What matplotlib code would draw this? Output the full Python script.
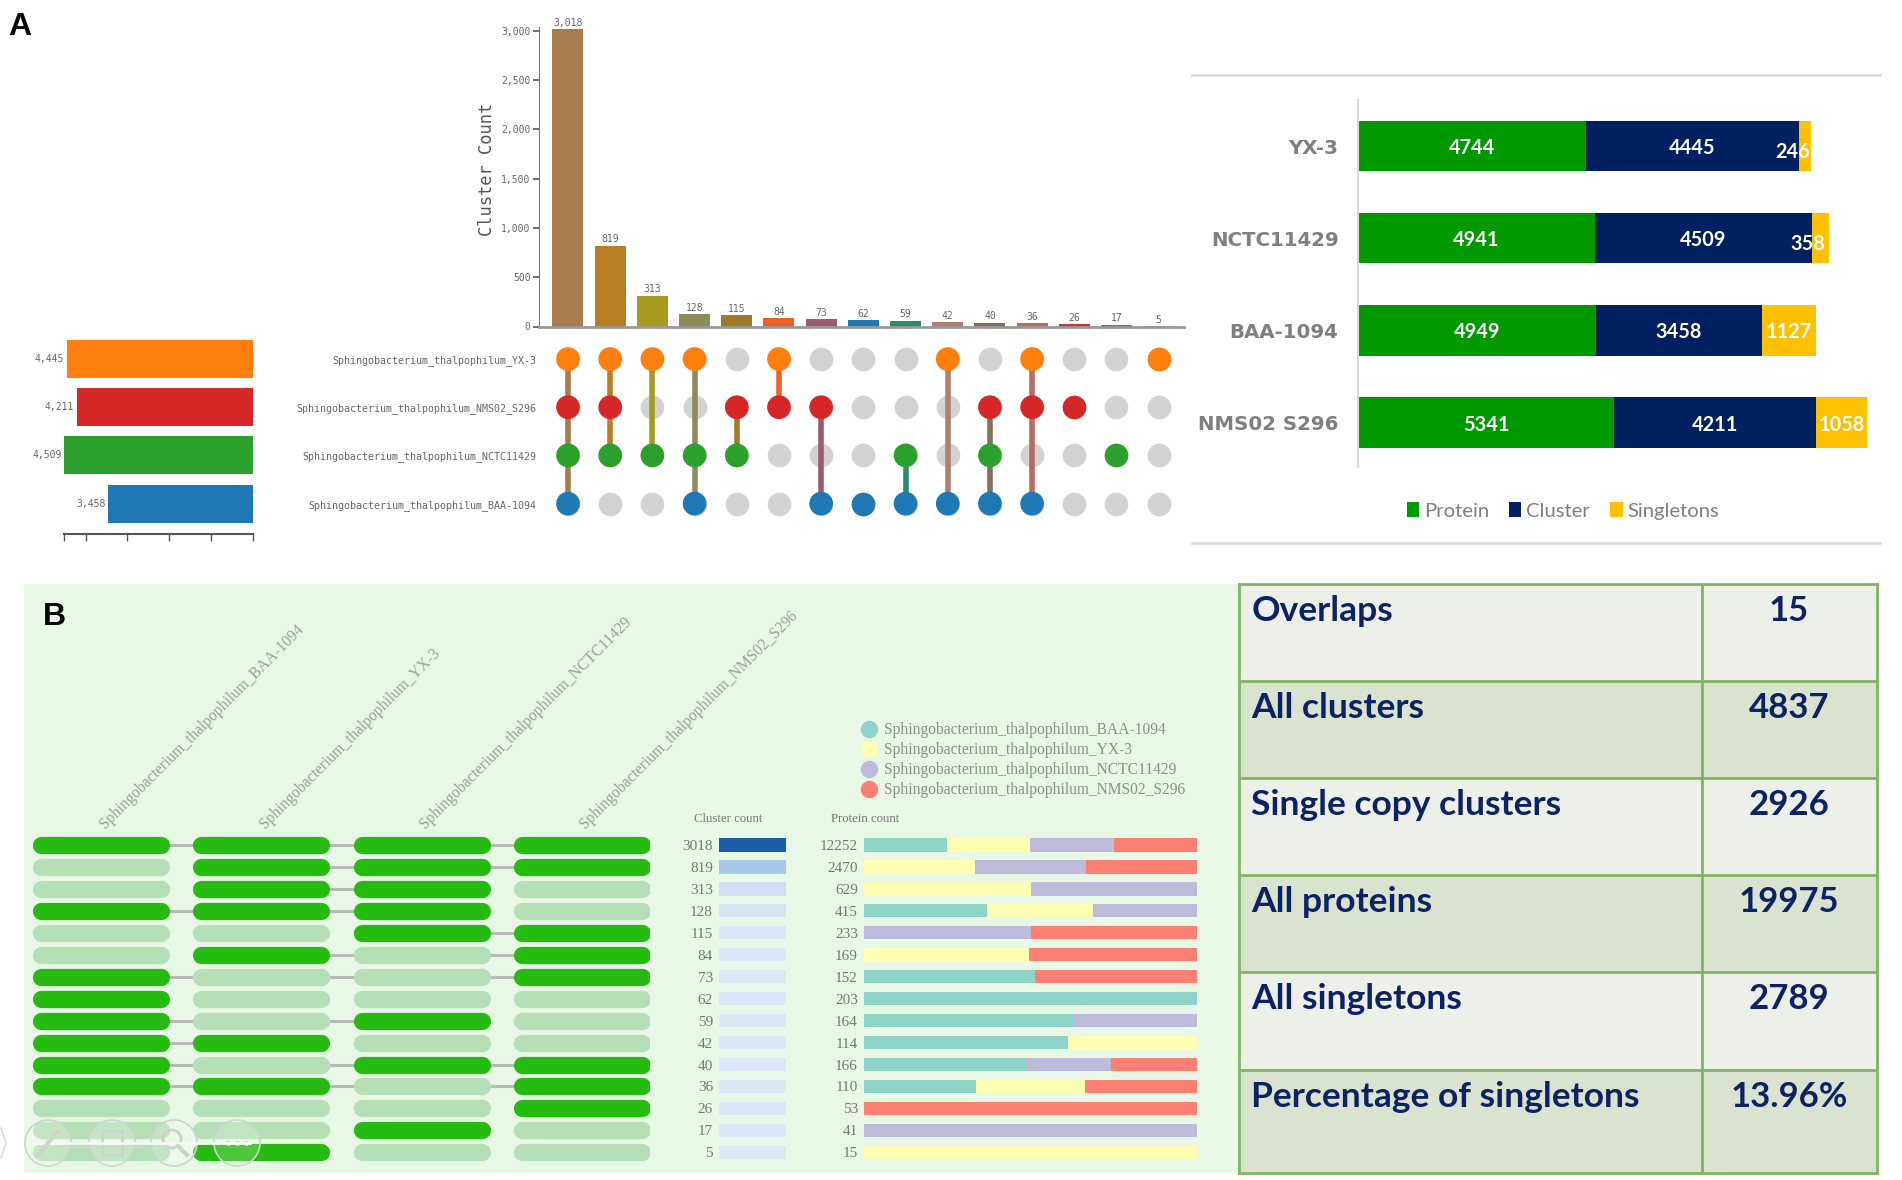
import matplotlib
matplotlib.use('Agg')

import numpy as np
import matplotlib.pyplot as plt
from matplotlib.lines import Line2D
from matplotlib.patches import Circle, Rectangle

W, H = 1902, 1180

# Upset data
clusterCounts = [3018, 819, 313, 128, 115, 84, 73, 62, 59, 42, 40, 36, 26, 17, 5]
barColors = ['#a67c4e', '#b97d24', '#a89a1f', '#8f8a5a', '#a07a2a', '#ec5f28', '#9a5a70', '#1f77b4',
             '#2a8a6e', '#b07f6e', '#85705a', '#b86a5e', '#c8323a', '#2ca02c', '#b0a090']
upsetStrains = ['Sphingobacterium_thalpophilum_YX-3', 'Sphingobacterium_thalpophilum_NMS02_S296',
                'Sphingobacterium_thalpophilum_NCTC11429', 'Sphingobacterium_thalpophilum_BAA-1094']
upsetColors = ['#ff7f0e', '#d62728', '#2ca02c', '#1f77b4']
strainTotals = [4445, 4211, 4509, 3458]
# letters: Y=YX-3, N=NMS02, C=NCTC, B=BAA
membership = ['YNCB', 'YNC', 'YC', 'YCB', 'NC', 'YN', 'NB', 'B', 'CB', 'YB', 'NCB', 'YNB', 'N', 'C', 'Y']
upsetOrder = 'YNCB'

# Stacked bars
stackStrains = ['YX-3', 'NCTC11429', 'BAA-1094', 'NMS02 S296']
proteinVals = [4744, 4941, 4949, 5341]
clusterVals = [4445, 4509, 3458, 4211]
singletonVals = [246, 358, 1127, 1058]

# Panel B
pillOrder = 'BYCN'
pillStrains = ['Sphingobacterium_thalpophilum_BAA-1094', 'Sphingobacterium_thalpophilum_YX-3',
               'Sphingobacterium_thalpophilum_NCTC11429', 'Sphingobacterium_thalpophilum_NMS02_S296']
pillColors = ['#8dd3c7', '#ffffb3', '#bebada', '#fb8072']
heatColors = ['#1a5da6', '#a8c8e8', '#cfe0f2', '#d5e4f5'] + ['#dce8f8'] * 11
proteinTotals = [12252, 2470, 629, 415, 233, 169, 152, 203, 164, 114, 166, 110, 53, 41, 15]
baaProteins = [3063, 0, 0, 154, 0, 0, 78, 203, 103, 70, 81, 37, 0, 0, 0]
yxProteins = [3063, 823, 315, 132, 0, 84, 0, 0, 0, 44, 0, 36, 0, 0, 15]
nctcProteins = [3063, 824, 314, 129, 117, 0, 0, 0, 61, 0, 42, 0, 0, 41, 0]
nmsProteins = [3063, 823, 0, 0, 116, 85, 74, 0, 0, 0, 43, 37, 53, 0, 0]

# Summary table
tableNames = ['Overlaps', 'All clusters', 'Single copy clusters', 'All proteins', 'All singletons',
              'Percentage of singletons']
tableValues = ['15', '4837', '2926', '19975', '2789', '13.96%']


def pxAxes(fig, x0, y0, x1, y1, **kw):
    # axes from a box in picture pixels
    return fig.add_axes([x0 / W, 1 - y1 / H, (x1 - x0) / W, (y1 - y0) / H], **kw)


def clearAxes(ax):
    for s in ax.spines.values():
        s.set_visible(False)
    ax.set_xticks([])
    ax.set_yticks([])
    ax.patch.set_alpha(0)


def drawUpsetBars(fig):
    ax = pxAxes(fig, 539, 27, 1184, 326.5)
    x = np.arange(len(clusterCounts))
    bars = ax.bar(x, clusterCounts, width=0.735, color=barColors)
    ax.bar_label(bars, fmt='{:,.0f}', fontsize=7, family='DejaVu Sans Mono', color='#666666', padding=1)
    ax.set_xlim(-0.687, 14.6)
    ax.set_ylim(0, 3040)
    ax.set_xticks([])
    ax.set_yticks(range(0, 3001, 500))
    ax.set_yticklabels(['{:,}'.format(v) for v in range(0, 3001, 500)], fontsize=7,
                       family='DejaVu Sans Mono', color='#666666')
    ax.tick_params(axis='y', length=4, width=1.2, color='#555555', pad=2)
    ax.set_ylabel('Cluster Count', fontsize=12.3, family='DejaVu Sans Mono', color='#555555')
    ax.yaxis.set_label_coords(-0.066, 0.525)
    for side in ['top', 'right']:
        ax.spines[side].set_visible(False)
    ax.spines['left'].set_color('#777777')
    ax.spines['bottom'].set_color('#999999')
    ax.spines['bottom'].set_linewidth(2)
    ax.patch.set_alpha(0)


def drawUpsetMatrix(fig):
    ax = pxAxes(fig, 539, 335, 1184, 530)
    clearAxes(ax)
    ax.set_xlim(-0.687, 14.6)
    ax.set_ylim((530 - 359) / 48.2, (335 - 359) / 48.2)
    for col, members in enumerate(membership):
        rows = [upsetOrder.index(m) for m in members]
        ax.scatter([col] * 4, range(4), s=290, color='#d3d3d3', zorder=1, linewidths=0)
        if len(rows) > 1:
            ax.plot([col, col], [min(rows), max(rows)], color=barColors[col], lw=4, zorder=2)
        ax.scatter([col] * len(rows), rows, s=290, color=[upsetColors[r] for r in rows], zorder=3, linewidths=0)
    ax.set_yticks(range(4))
    ax.set_yticklabels(upsetStrains, fontsize=7.2, family='DejaVu Sans Mono', color='#666666')
    ax.tick_params(axis='y', length=0, pad=2)


def drawStrainBars(fig):
    ax = pxAxes(fig, 64, 335, 252.5, 534)
    rows = np.arange(4)
    ax.barh(rows, strainTotals, height=0.785, color=upsetColors)
    for r, v in enumerate(strainTotals):
        ax.annotate('{:,}'.format(v), (v, r), xytext=(-2, 0), textcoords='offset points', ha='right', va='center',
                    fontsize=7, family='DejaVu Sans Mono', color='#666666', annotation_clip=False)
    ax.set_xlim(4520, 0)
    ax.set_ylim((534 - 359) / 48.2, (335 - 359) / 48.2)
    ax.set_yticks([])
    ax.set_xticks([0, 1000, 2000, 3000, 4000, 4520])
    ax.set_xticklabels([])
    ax.tick_params(axis='x', length=5, width=1, color='#555555')
    for side in ['top', 'right', 'left']:
        ax.spines[side].set_visible(False)
    ax.spines['bottom'].set_color('#555555')
    ax.spines['bottom'].set_linewidth(1.5)
    ax.patch.set_alpha(0)


def drawStack(fig):
    ax = pxAxes(fig, 1358, 100, 1880, 467)
    rows = np.arange(4)
    prot = np.array(proteinVals)
    clus = np.array(clusterVals)
    sing = np.array(singletonVals)
    h = 0.548
    b1 = ax.barh(rows, prot, height=h, color='#009900', label='Protein')
    b2 = ax.barh(rows, clus, height=h, left=prot, color='#002060', label='Cluster')
    b3 = ax.barh(rows, sing, height=h, left=prot + clus, color='#ffc000', label='Singletons')
    lab = dict(color='white', family='Lato', fontweight='bold', fontsize=14.3, ha='center', va='center',
               textcoords='offset points')
    for r in rows:
        ax.annotate(str(prot[r]), (prot[r] / 2.0, r), xytext=(0, -1.5), **lab)
        ax.annotate(str(clus[r]), (prot[r] + clus[r] / 2.0, r), xytext=(0, -1.5), **lab)
        off = (-9, -4) if sing[r] < 500 else (0, -1.5)
        ax.annotate(str(sing[r]), (prot[r] + clus[r] + sing[r] / 2.0, r), xytext=off, **lab)
    ax.set_xlim(0, 522 / 0.048)
    ax.set_ylim(3.483, -0.5)
    ax.set_xticks([])
    ax.set_yticks(rows)
    ax.set_yticklabels(stackStrains, fontsize=14.2, family='DejaVu Sans', fontweight='bold', color='#7f7f7f')
    ax.tick_params(axis='y', length=0, pad=14)
    for side in ['top', 'right', 'bottom']:
        ax.spines[side].set_visible(False)
    ax.spines['left'].set_color('#d9d9d9')
    ax.spines['left'].set_linewidth(1.5)
    ax.patch.set_alpha(0)
    ax.legend(handles=[b1, b2, b3], ncol=3, frameon=False, loc='center', bbox_to_anchor=(1563 / W, 1 - 511 / H),
              bbox_transform=fig.transFigure, prop=dict(family='Lato', size=14.6), labelcolor='#7f7f7f',
              handlelength=0.6, handleheight=0.7, handletextpad=0.25, columnspacing=1.0)


def drawPills(fig):
    ax = pxAxes(fig, 32.6, 834, 650.4, 1163.3)
    clearAxes(ax)
    ax.set_xlim(-0.429, 3.429)
    ax.set_ylim(14.5, -0.5)
    inset = 0.429 - 0.054
    for row, members in enumerate(membership):
        cols = [pillOrder.index(m) for m in members]
        if len(cols) > 1:
            ax.plot([min(cols), max(cols)], [row, row], color='#b9b9b9', lw=2.2, zorder=1)
        for c in range(4):
            color = '#25bb10' if c in cols else '#b5e0b5'
            ax.plot([c - inset, c + inset], [row, row], color=color, lw=12.4,
                    solid_capstyle='round', zorder=2)
    for c, name in enumerate(pillStrains):
        ax.text(c + 0.04, -0.59, name, rotation=45, rotation_mode='anchor', ha='left', va='bottom',
                family='Liberation Serif', fontsize=11.2, color='#9a9f9a', clip_on=False)


def drawCountBars(fig):
    rows = np.arange(15)
    ax = pxAxes(fig, 718.6, 834, 785.5, 1163.3)
    ax.barh(rows, np.ones(15), height=0.606, color=heatColors)
    ax.set_xlim(0, 1)
    ax.set_ylim(14.5, -0.5)
    clearAxes(ax)
    ax.set_yticks(rows)
    ax.set_yticklabels(clusterCounts, family='Liberation Serif', fontsize=11, color='#777777')
    ax.tick_params(axis='y', length=0, pad=4)
    ax.text(0.14, 1.045, 'Cluster count', transform=ax.transAxes, ha='center', va='center',
            family='Liberation Serif', fontsize=9.2, color='#777777')

    ax = pxAxes(fig, 863.6, 834, 1197, 1163.3)
    series = [baaProteins, yxProteins, nctcProteins, nmsProteins]
    left = np.zeros(15)
    handles = []
    for vals, color, name in zip(series, pillColors, pillStrains):
        share = np.array(vals) / np.array(proteinTotals)
        ax.barh(rows, share, height=0.606, left=left, color=color)
        left = left + share
        handles.append(Line2D([], [], marker='o', ls='', ms=11.5, color=color, label=name))
    ax.set_xlim(0, 1)
    ax.set_ylim(14.5, -0.5)
    clearAxes(ax)
    ax.set_yticks(rows)
    ax.set_yticklabels(proteinTotals, family='Liberation Serif', fontsize=11, color='#777777')
    ax.tick_params(axis='y', length=0, pad=4)
    ax.text(0.005, 1.045, 'Protein count', transform=ax.transAxes, ha='center', va='center',
            family='Liberation Serif', fontsize=9.2, color='#777777')
    ax.legend(handles=handles, frameon=False, loc='upper left', bbox_to_anchor=(853 / W, 1 - 722 / H),
              bbox_transform=fig.transFigure, borderpad=0, borderaxespad=0, labelspacing=0.26,
              handletextpad=0.0, prop=dict(family='Liberation Serif', size=11.2), labelcolor='#8a8f8a')


def drawTable(fig):
    ax = pxAxes(fig, 1238.6, 583.6, 1877, 1173)
    edges = np.array([0, 97.3, 194.6, 291.5, 388.8, 486, 589.4])
    ax.barh(edges[:-1], [638.4] * 6, height=np.diff(edges), color=['#ecf0e8', '#d9e3cf'] * 3, align='edge')
    ax.set_xlim(0, 638.4)
    ax.set_ylim(589.4, 0)
    clearAxes(ax)
    ax.patch.set_alpha(1)
    ax.hlines(edges[1:-1], 0, 638.4, color='#7fb560', lw=2)
    ax.vlines(463, 0, 589.4, color='#7fb560', lw=2)
    for s in ax.spines.values():
        s.set_visible(True)
        s.set_color('#7fb560')
        s.set_linewidth(2)
    for r, (name, val) in enumerate(zip(tableNames, tableValues)):
        ax.text(12.8, edges[r] + 27, name, family='Lato', fontweight='bold', fontsize=25.5, color='#0b2265', va='center')
        ax.text(550.4, edges[r] + 27, val, family='Lato', fontweight='bold', fontsize=25, color='#0b2265',
                va='center', ha='center')


def drawOverlay(fig):
    # page furniture in pixel coordinates
    bg = fig.add_axes([0, 0, 1, 1], zorder=-1)
    bg.set_xlim(0, W)
    bg.set_ylim(H, 0)
    bg.axis('off')
    bg.add_patch(Rectangle((23.7, 584), 1238 - 23.7, 1173 - 584, color='#e8f7e6', lw=0))
    bg.plot([1191.5, 1880], [75, 75], color='#dcdcdc', lw=2)
    bg.plot([1191.5, 1880], [543, 543], color='#dcdcdc', lw=2)

    top = fig.add_axes([0, 0, 1, 1], zorder=10)
    top.set_xlim(0, W)
    top.set_ylim(H, 0)
    top.axis('off')
    top.text(8, 35, 'A', family='Liberation Sans', fontweight='bold', fontsize=23, color='black')
    top.text(43, 625, 'B', family='Liberation Sans', fontweight='bold', fontsize=23, color='black')
    # faint viewer toolbar sitting on top of the figure
    faint = '#cfd3cf'
    top.plot([32, 250], [1142.5, 1142.5], color='#f4fbf2', lw=2)
    for cx in [48, 112, 174, 237]:
        top.add_patch(Circle((cx, 1143), 23, facecolor=(1, 1, 1, 0.18), edgecolor=faint, lw=1.2))
    top.plot([38, 58], [1155, 1131], color=faint, lw=3, solid_capstyle='round')
    top.add_patch(Rectangle((102, 1131), 20, 24, facecolor='none', edgecolor=faint, lw=2))
    top.add_patch(Circle((172, 1139), 9, facecolor='none', edgecolor=faint, lw=2))
    top.plot([178, 187], [1146, 1155], color=faint, lw=3)
    top.scatter([228, 237, 246], [1143, 1143, 1143], s=8, color=faint)
    top.plot([1, 6, 1], [1128, 1143, 1158], color='#d8d8d8', lw=1)


def main():
    fig = plt.figure(figsize=(W / 100.0, H / 100.0), dpi=100)
    drawOverlay(fig)
    drawUpsetBars(fig)
    drawUpsetMatrix(fig)
    drawStrainBars(fig)
    drawStack(fig)
    drawPills(fig)
    drawCountBars(fig)
    drawTable(fig)
    plt.savefig('out.png', dpi=100)


if __name__ == '__main__':
    main()
